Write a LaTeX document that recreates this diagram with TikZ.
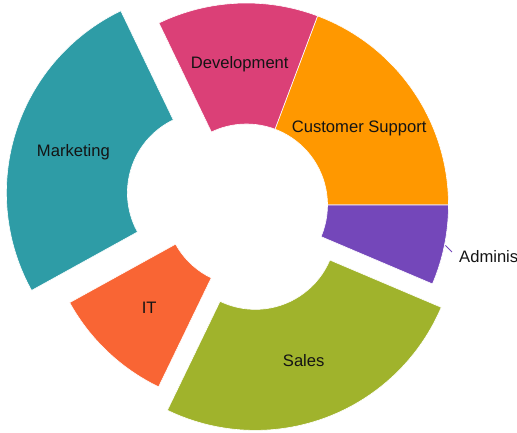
\documentclass[tikz,border=0pt]{standalone}
\usepackage{fontspec}
\setmainfont{Liberation Sans}
\definecolor{cMkt}{RGB}{46,156,166}
\definecolor{cDev}{RGB}{219,64,119}
\definecolor{cCS}{RGB}{255,152,0}
\definecolor{cAdm}{RGB}{116,71,186}
\definecolor{cSales}{RGB}{160,179,44}
\definecolor{cIT}{RGB}{249,101,52}
\newcommand\donutslice[5]{% start, end, colour, explode, mid angle
  \filldraw[fill=#3, draw=white, line width=0.6pt, shift={(#5:#4pt)}]
    (#1:81pt) -- (#1:202pt) arc[start angle=#1, end angle=#2, radius=202pt]
    -- (#2:81pt) arc[start angle=#2, end angle=#1, radius=81pt] -- cycle;}
\tikzset{lbl/.style={inner sep=0pt, anchor=base, text=black!92, font=\fontsize{16.6}{19}\selectfont}}
\begin{document}
\begin{tikzpicture}[x=1pt,y=1pt]
\useasboundingbox (0,0) rectangle (517,433);
\clip (0,0) rectangle (517,433);
\begin{scope}[shift={(246.5,228)}]
  \donutslice{0}{69.4}{cCS}{0}{34.7}
  \donutslice{69.4}{115.7}{cDev}{0}{92.5}
  \donutslice{115.7}{208.9}{cMkt}{40}{162.3}
  \donutslice{208.9}{244.2}{cIT}{0}{226.5}
  \donutslice{244.2}{337}{cSales}{25}{290.6}
  \donutslice{337}{360}{cAdm}{0}{348.5}
  \coordinate (admtip) at (348.5:203pt);
\end{scope}
\node[lbl] (mkt) at (73.4,276.7) {Marketing};
\node[lbl] (dev) at (239.7,364.3) {Development};
\node[lbl] (cs) at (359.2,300.3) {Customer Support};
\node[lbl] (it) at (149.2,119) {IT};
\node[lbl] (sales) at (303.7,66.3) {Sales};
\node[lbl, anchor=base west] (adm) at (459,170.7) {Administration};
\coordinate (admknee) at (452,181);
\draw[cAdm, line width=1pt] (admtip) -- (admknee);
\end{tikzpicture}
\end{document}
